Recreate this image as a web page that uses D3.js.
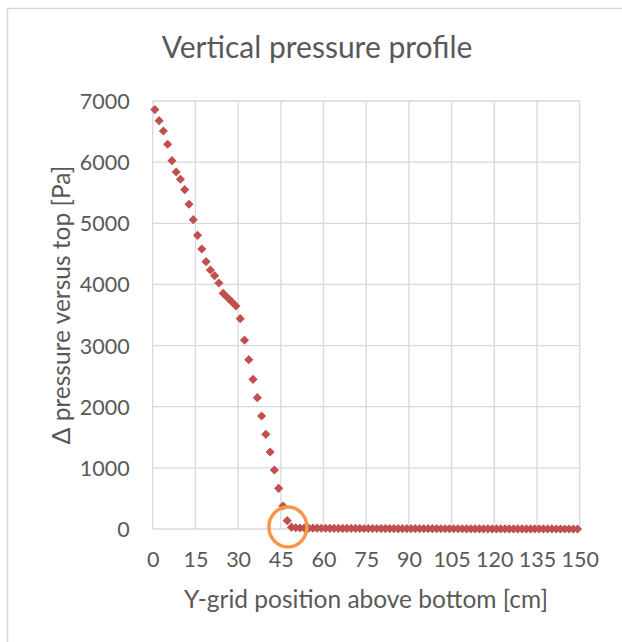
<!DOCTYPE html>
<html><head><meta charset="utf-8">
<script src="https://cdn.jsdelivr.net/npm/d3@7"></script>
<style>html,body{margin:0;padding:0;background:#fff;}svg{display:block;}</style>
</head><body>
<script>
const title = "Vertical pressure profile";
const xTitle = "Y-grid position above bottom [cm]";
const yTitle = "\u0394 pressure versus top [Pa]";
const xTicks = [0,15,30,45,60,75,90,105,120,135,150];
const yTicks = [0,1000,2000,3000,4000,5000,6000,7000];
const positions = [0.75,2.25,3.75,5.25,6.75,8.25,9.75,11.25,12.75,14.25,
 15.75,17.25,18.75,20.25,21.75,23.25,24.75,26.25,27.75,29.25,
 30.75,32.25,33.75,35.25,36.75,38.25,39.75,41.25,42.75,44.25,
 45.75,47.25,48.75,50.25,51.75,53.25,54.75,56.25,57.75,59.25,
 60.75,62.25,63.75,65.25,66.75,68.25,69.75,71.25,72.75,74.25,
 75.75,77.25,78.75,80.25,81.75,83.25,84.75,86.25,87.75,89.25,
 90.75,92.25,93.75,95.25,96.75,98.25,99.75,101.25,102.75,104.25,
 105.75,107.25,108.75,110.25,111.75,113.25,114.75,116.25,117.75,119.25,
 120.75,122.25,123.75,125.25,126.75,128.25,129.75,131.25,132.75,134.25,
 135.75,137.25,138.75,140.25,141.75,143.25,144.75,146.25,147.75,149.25];
const pressure = [6860,6678,6510,6292,6024,5839,5720,5550,5311,5059,
 4803,4580,4372,4236,4143,4024,3855,3786,3718,3647,
 3440,3088,2770,2448,2148,1848,1548,1259,965,665,
 376,136,30,20,17,16,15,14,13,12,
 12,11,11,10,10,10,9,9,9,8,
 8,8,8,7,7,7,7,6,6,6,
 6,6,5,5,5,5,5,4,4,4,
 4,4,4,3,3,3,3,3,3,2,
 2,2,2,2,2,2,1,1,1,1,
 1,1,1,1,0,0,0,0,0,0];
const annotation = {x: 47.5, y: 33};

(function(){
const W = 622, H = 642;
const svg = d3.select("body").append("svg").attr("width", W).attr("height", H);
const font = "Lato, 'Open Sans', sans-serif";
const textColor = "#595959";

svg.append("rect").attr("x", 7.5).attr("y", 8.5).attr("width", 700).attr("height", 700)
  .attr("fill", "#fff").attr("stroke", "#d9d9d9").attr("stroke-width", 1.5);

const pL = 152.7, pR = 579.7, pT = 101, pB = 529;
const x = d3.scaleLinear().domain([0,150]).range([pL,pR]);
const y = d3.scaleLinear().domain([0,7000]).range([pB,pT]);

const g = svg.append("g");
g.selectAll("line.v").data(xTicks).join("line").attr("class","v")
  .attr("x1", d=>x(d)).attr("x2", d=>x(d)).attr("y1", pT).attr("y2", pB)
  .attr("stroke", "#d9d9d9").attr("stroke-width", 1.3);
g.selectAll("line.h").data(yTicks).join("line").attr("class","h")
  .attr("x1", pL).attr("x2", pR).attr("y1", d=>y(d)).attr("y2", d=>y(d))
  .attr("stroke", "#d9d9d9").attr("stroke-width", 1.3);

const xAxis = d3.axisBottom(x).tickValues(xTicks).tickSize(0).tickPadding(0).tickFormat(d3.format("d"));
const xg = svg.append("g").attr("transform", `translate(0,${pB + 38})`).call(xAxis);
xg.select(".domain").remove();
xg.selectAll("text").attr("font-family", font).attr("font-size", 21.5).attr("fill", textColor).attr("dy", 0);

const yAxis = d3.axisLeft(y).tickValues(yTicks).tickSize(0).tickPadding(0).tickFormat(d3.format("d"));
const yg = svg.append("g").attr("transform", `translate(${pL - 23},0)`).call(yAxis);
yg.select(".domain").remove();
yg.selectAll("text").attr("font-family", font).attr("font-size", 21.5).attr("fill", textColor).attr("dy", "0.35em");

const diamond = d3.symbol().type(d3.symbolSquare).size(42);
svg.append("g").selectAll("path").data(positions.map((p,i)=>({x:p, y:pressure[i]}))).join("path")
  .attr("d", diamond)
  .attr("transform", d=>`translate(${x(d.x)},${y(d.y)}) rotate(45)`)
  .attr("fill", "#c0504d");

svg.append("ellipse").attr("cx", x(annotation.x)).attr("cy", y(annotation.y))
  .attr("rx", 19).attr("ry", 20).attr("fill", "none")
  .attr("stroke", "#f79646").attr("stroke-width", 3.5);

svg.append("text").attr("x", 317).attr("y", 58).attr("text-anchor", "middle")
  .attr("font-family", font).attr("font-size", 30).attr("fill", textColor).text(title);
svg.append("text").attr("x", 366).attr("y", 608).attr("text-anchor", "middle")
  .attr("font-family", font).attr("font-size", 24.5).attr("fill", textColor).text(xTitle);
svg.append("text").attr("transform", `translate(70,305) rotate(-90)`).attr("text-anchor", "middle")
  .attr("font-family", font).attr("font-size", 24.5).attr("fill", textColor).text(yTitle);
})();
</script>
</body></html>
